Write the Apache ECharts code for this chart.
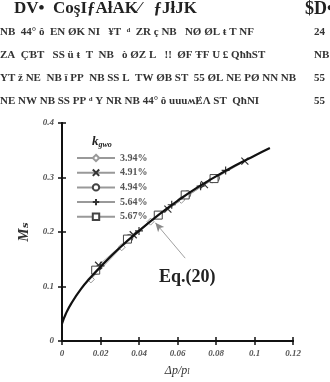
<!DOCTYPE html>
<html><head><meta charset="utf-8">
<script src="https://cdn.jsdelivr.net/npm/echarts@6/dist/echarts.min.js"></script>
<style>html,body{margin:0;padding:0;background:#fff}#c{width:330px;height:382px}</style>
</head><body><div id="c"></div>
<script>
const xTicks = [0, 0.02, 0.04, 0.06, 0.08, 0.1, 0.12];
const yTicks = [0, 0.1, 0.2, 0.3, 0.4];
const seriesNames = ['3.94%', '4.91%', '4.94%', '5.64%', '5.67%'];
const s394 = [[0.015, 0.113], [0.031, 0.172], [0.046, 0.219], [0.062, 0.259], [0.078, 0.296]];
const s491 = [[0.019, 0.139], [0.037, 0.195], [0.055, 0.242], [0.074, 0.287], [0.095, 0.330]];
const s494 = [[0.0175, 0.129], [0.035, 0.189], [0.050, 0.231], [0.065, 0.269], [0.080, 0.299]];
const s564 = [[0.020, 0.138], [0.040, 0.202], [0.057, 0.250], [0.072, 0.284], [0.085, 0.313]];
const s567 = [[0.0175, 0.130], [0.034, 0.187], [0.050, 0.231], [0.064, 0.268], [0.079, 0.298]];
const eqX = [0, 0.002, 0.005, 0.01, 0.015, 0.02, 0.03, 0.04, 0.05, 0.06, 0.07, 0.08, 0.09, 0.1, 0.108];
const eqY = [0.032, 0.050, 0.070, 0.096, 0.117, 0.136, 0.171, 0.202, 0.231, 0.257, 0.281, 0.302, 0.322, 0.340, 0.354];
const headerLines = [
  'DV\u2022  Co\u015fI\u0192A\u0142AK\u2044   \u0192J\u0142JK',
  'NB  44\u00b0 \u00f4  EN \u00d8K NI   \u00a5T  \u1d48  ZR \u00e7 NB   N\u00d8 \u00d8L \u0167 T NF',
  'ZA  \u00c7\u0181T   SS \u00fc \u0167  T  NB   \u00f2 \u00d8Z L   !!  \u00d8F \u0166F U \u00a3 Q\u0127\u0127ST',
  'YT \u017e NE  NB \u00ef PP  NB SS L  TW \u00d8B ST  55 \u00d8L NE P\u00d8 NN NB',
  'NE NW NB SS PP \u1d48 Y NR NB 44\u00b0 \u00f4 uuu\u028d\u0246\u0245 ST  Q\u0127NI'
];
const headerEnds = ['24', 'NB', '55', '55'];

const mk = { color: '#fff', borderColor: '#444', borderWidth: 1 };
const mkStroke = { color: 'none', borderColor: '#333', borderWidth: 1.2 };
function dataSeries(name, data, symbol, size, style) {
  return { name, type: 'line', data, symbol, symbolSize: size, showSymbol: true,
    itemStyle: style, lineStyle: { color: '#999', width: 0.8 }, z: 3 };
}
const chart = echarts.init(document.getElementById('c'));
const serif = '"Liberation Serif", "DejaVu Serif", serif';
const axisLabel = { fontFamily: serif, fontStyle: 'italic', fontWeight: 'bold', fontSize: 9, color: '#555', margin: 8 };
const hdr = [];
hdr.push({ type: 'text', left: 14, top: 0, style: { text: headerLines[0], fontFamily: serif, fontWeight: 'bold', fontSize: 17, fill: '#222' } });
hdr.push({ type: 'text', left: 305, top: 0, style: { text: '$D\u2022', fontFamily: serif, fontWeight: 'bold', fontSize: 18, fill: '#222' } });
for (let i = 1; i < headerLines.length; i++) {
  hdr.push({ type: 'text', left: 0, top: 4 + 23 * i, style: { text: headerLines[i], fontFamily: serif, fontWeight: 'bold', fontSize: 11, fill: '#333' } });
  hdr.push({ type: 'text', left: 314, top: 4 + 23 * i, style: { text: headerEnds[i - 1], fontFamily: serif, fontWeight: 'bold', fontSize: 11, fill: '#333' } });
}
chart.setOption({
  animation: false,
  backgroundColor: '#fff',
  grid: { left: 62, right: 37, top: 123, bottom: 32 },
  xAxis: [
    { type: 'value', min: 0, max: 0.12, interval: 0.02, position: 'bottom',
      axisLine: { lineStyle: { color: '#111', width: 2 } },
      axisTick: { inside: true, length: 4, lineStyle: { color: '#111', width: 1.5 } },
      splitLine: { show: false },
      axisLabel: Object.assign({}, axisLabel, { formatter: v => String(+v.toFixed(2)) }),
      name: '\u0394p/p\u2097', nameLocation: 'middle', nameGap: 24,
      nameTextStyle: { fontFamily: serif, fontStyle: 'italic', fontSize: 12, color: '#333' } },
    { type: 'value', min: 0, max: 0.12, interval: 0.02, position: 'top',
      axisLine: { lineStyle: { color: '#111', width: 2 } },
      axisTick: { inside: true, length: 4, lineStyle: { color: '#111', width: 1.5 } },
      axisLabel: { show: false }, splitLine: { show: false } }
  ],
  yAxis: [
    { type: 'value', min: 0, max: 0.4, interval: 0.1, position: 'left',
      axisLine: { lineStyle: { color: '#111', width: 2 } },
      axisTick: { inside: true, length: 4, lineStyle: { color: '#111', width: 1.5 } },
      splitLine: { show: false },
      axisLabel: Object.assign({}, axisLabel, { formatter: v => String(+v.toFixed(1)) }),
      name: 'M\u209b', nameLocation: 'middle', nameGap: 22, nameRotate: 90,
      nameTextStyle: { fontFamily: serif, fontStyle: 'italic', fontWeight: 'bold', fontSize: 15, color: '#333' } },
    { type: 'value', min: 0, max: 0.4, interval: 0.1, position: 'right',
      axisLine: { lineStyle: { color: '#111', width: 2 } },
      axisTick: { inside: true, length: 4, lineStyle: { color: '#111', width: 1.5 } },
      axisLabel: { show: false }, splitLine: { show: false } }
  ],
  legend: {
    orient: 'vertical', left: 71, top: 148, itemGap: 4, itemWidth: 38, itemHeight: 8,
    data: seriesNames,
    textStyle: { fontFamily: serif, fontWeight: 'bold', fontSize: 10, color: '#555' }
  },
  series: [
    { name: 'Eq.(20)', type: 'line', data: eqX.map((x, i) => [x, eqY[i]]), smooth: true,
      symbol: 'none', lineStyle: { color: '#111', width: 2.2 }, z: 5,
      markLine: { silent: true, symbol: ['none', 'arrow'], symbolSize: [6, 9],
        lineStyle: { color: '#888', width: 0.8, type: 'solid' }, label: { show: false },
        data: [[{ coord: [0.064, 0.152] }, { coord: [0.0485, 0.217] }]] } },
    dataSeries(seriesNames[0], s394, 'diamond', 7, { color: '#fff', borderColor: '#999', borderWidth: 1 }),
    dataSeries(seriesNames[1], s491, 'path://M0,0L10,10M10,0L0,10', 7, mkStroke),
    dataSeries(seriesNames[2], s494, 'circle', 7, mk),
    dataSeries(seriesNames[3], s564, 'path://M5,0L5,10M0,5L10,5', 8, mkStroke),
    dataSeries(seriesNames[4], s567, 'rect', 8, mk)
  ],
  graphic: [
    { type: 'text', left: 92, top: 135, style: { rich: { a: { fontFamily: serif, fontStyle: 'italic', fontWeight: 'bold', fontSize: 13, fill: '#222' }, b: { fontFamily: serif, fontStyle: 'italic', fontWeight: 'bold', fontSize: 8, fill: '#222', padding: [6, 0, 0, 0] } }, text: '{a|k}{b|gwo}' } },
    { type: 'text', left: 159, top: 268, style: { text: 'Eq.(20)', fontFamily: serif, fontWeight: 'bold', fontSize: 18, fill: '#222' } }
  ].concat(hdr)
});
</script></body></html>
